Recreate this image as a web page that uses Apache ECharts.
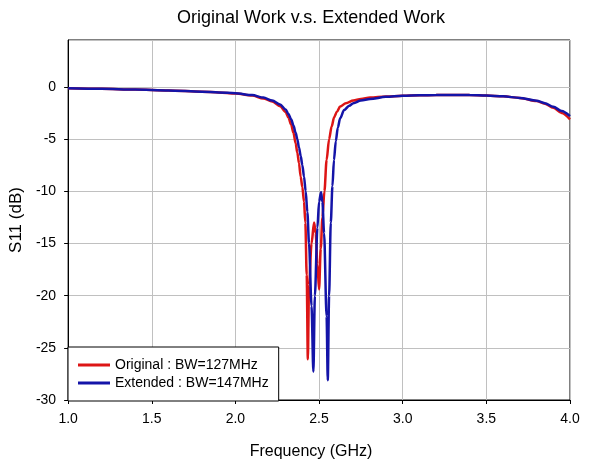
<!DOCTYPE html>
<html><head><meta charset="utf-8">
<script src="https://cdn.jsdelivr.net/npm/echarts@6/dist/echarts.min.js"></script>
<style>html,body{margin:0;padding:0;background:#fff}#c{width:600px;height:465px}</style>
</head><body><div id="c"></div>
<script>
var title = "Original Work v.s. Extended Work";
var xName = "Frequency (GHz)";
var yName = "S11 (dB)";
var seriesNames = ["Original : BW=127MHz", "Extended : BW=147MHz"];

var origFreq = [1.0,1.2,1.4,1.6,1.8,1.9,2.0,2.1,2.167,2.22,2.267,2.3,2.317,2.333,2.347,2.36,2.37,2.38,2.39,2.40,2.41,2.418,2.426,2.433,2.44,2.455,2.47,2.48,2.49,2.50,2.51,2.52,2.532,2.545,2.56,2.575,2.59,2.606,2.626,2.66,2.705,2.75,2.805,2.9,3.0,3.1,3.2,3.3,3.4,3.5,3.6,3.7,3.8,3.85,3.9,3.95,4.0];
var origS11  = [-0.12,-0.18,-0.25,-0.33,-0.45,-0.52,-0.62,-0.82,-1.1,-1.4,-1.85,-2.4,-2.95,-3.6,-4.4,-5.4,-6.3,-7.3,-8.6,-9.6,-11.0,-13.0,-18.0,-26.1,-19.0,-15.0,-13.0,-14.0,-17.0,-19.4,-15.5,-12.5,-10.0,-7.0,-5.0,-3.8,-2.9,-2.4,-1.88,-1.55,-1.3,-1.15,-1.02,-0.92,-0.85,-0.8,-0.78,-0.77,-0.78,-0.82,-0.9,-1.05,-1.35,-1.6,-2.0,-2.5,-3.1];

var extFreq = [1.0,1.2,1.4,1.6,1.8,1.9,2.0,2.1,2.167,2.22,2.267,2.3,2.317,2.333,2.347,2.36,2.37,2.38,2.39,2.40,2.41,2.42,2.43,2.44,2.455,2.466,2.475,2.49,2.50,2.512,2.52,2.53,2.545,2.552,2.56,2.57,2.58,2.589,2.60,2.612,2.626,2.65,2.68,2.705,2.75,2.805,2.9,3.0,3.1,3.2,3.3,3.4,3.5,3.6,3.7,3.8,3.85,3.9,3.95,4.0];
var extS11  = [-0.12,-0.18,-0.25,-0.33,-0.45,-0.52,-0.6,-0.78,-1.02,-1.3,-1.68,-2.15,-2.6,-3.1,-3.7,-4.4,-5.0,-5.8,-6.6,-7.5,-8.6,-10.0,-12.0,-15.0,-21.0,-27.3,-20.0,-13.5,-11.0,-10.1,-11.0,-14.0,-22.0,-28.1,-20.0,-13.0,-9.5,-7.0,-5.2,-3.9,-3.0,-2.2,-1.8,-1.56,-1.3,-1.15,-0.95,-0.85,-0.8,-0.78,-0.77,-0.78,-0.82,-0.9,-1.05,-1.32,-1.55,-1.9,-2.3,-2.8];

function zip(a,b){return a.map(function(v,i){return [v,b[i]];});}

var chart = echarts.init(document.getElementById('c'), null, {renderer:'canvas'});
var font = 'Arial, "Liberation Sans", sans-serif';
chart.setOption({
  animation:false,
  backgroundColor:'#fff',
  title:{text:title,left:306,top:4,textAlign:'center',textStyle:{fontFamily:font,fontSize:18,fontWeight:'normal',color:'#000'}},
  grid:{left:68,right:30,top:40,bottom:64,show:true,borderColor:'#000',borderWidth:1,containLabel:false},
  legend:{orient:'vertical',left:68,top:347,itemWidth:32,itemHeight:3,icon:'rect',itemGap:4,
    padding:[11,10,11,10],borderColor:'#000',borderWidth:1,backgroundColor:'#fff',
    textStyle:{fontFamily:font,fontSize:14,color:'#000'},data:seriesNames},
  xAxis:{type:'value',min:1,max:4,interval:0.5,name:xName,nameLocation:'middle',nameGap:44,
    nameTextStyle:{fontFamily:font,fontSize:16,color:'#000',padding:[0,16,0,0]},
    axisLine:{onZero:false,lineStyle:{color:'#000'}},axisTick:{show:true,length:4,lineStyle:{color:'#000'}},
    axisLabel:{fontFamily:font,fontSize:14,color:'#000',margin:12,formatter:function(v){return v.toFixed(1);}},
    splitLine:{show:true,lineStyle:{color:'#c0c0c0',width:1}}},
  yAxis:{type:'value',min:-30,max:4.5,interval:5,name:yName,nameLocation:'middle',nameGap:42,nameRotate:90,
    nameTextStyle:{fontFamily:font,fontSize:17,color:'#000'},
    axisLine:{show:true,lineStyle:{color:'#000'}},axisTick:{show:true,length:4,lineStyle:{color:'#000'}},
    axisLabel:{fontFamily:font,fontSize:14,color:'#000',margin:12,showMaxLabel:false,formatter:function(v){return (Math.abs(v%5)<1e-9)?String(v):'';}},
    splitLine:{show:true,lineStyle:{color:'#c0c0c0',width:1}}},
  series:[
    {name:seriesNames[0],type:'line',data:zip(origFreq,origS11),symbol:'none',smooth:0.3,smoothMonotone:'x',
      lineStyle:{color:'#dd1515',width:2.5},itemStyle:{color:'#dd1515'},z:3},
    {name:seriesNames[1],type:'line',data:zip(extFreq,extS11),symbol:'none',smooth:0.3,smoothMonotone:'x',
      lineStyle:{color:'#1414a8',width:2.5},itemStyle:{color:'#1414a8'},z:4}
  ]
});
</script></body></html>
